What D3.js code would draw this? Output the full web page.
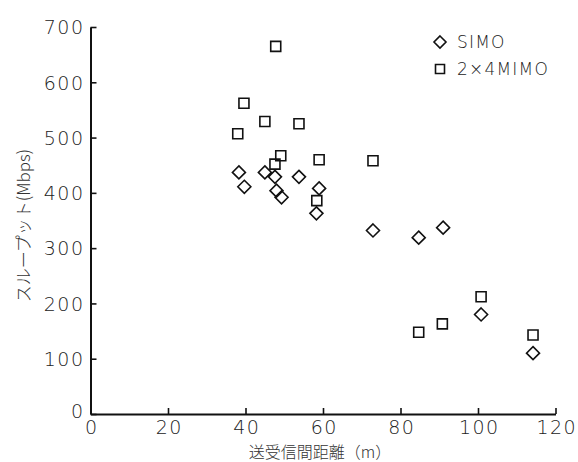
<!DOCTYPE html>
<html>
<head>
<meta charset="utf-8">
<script src="https://cdn.jsdelivr.net/npm/d3@7"></script>
<style>
  body { margin: 0; background: #fff; }
  svg text { font-family: "DejaVu Sans", "Noto Sans CJK JP", sans-serif; font-weight: 300; fill: #222; }
  svg text.jp { font-family: "Noto Sans CJK JP", sans-serif; fill: #333; }
</style>
</head>
<body>
<div id="main"></div>
<script>
// distance (m) and throughput (Mbps)
const simoDist = [38.3, 39.7, 45.0, 47.6, 48.0, 49.3, 53.8, 58.3, 59.0, 72.9, 84.7, 91.0, 100.8, 114.2];
const simoRate = [437, 411, 437, 429, 404, 392, 429, 363, 408, 332, 319, 337, 180, 110];
const mimoDist = [38.0, 39.6, 45.0, 47.6, 47.8, 49.1, 53.8, 58.4, 59.0, 72.9, 84.7, 90.8, 100.8, 114.2];
const mimoRate = [507, 562, 529, 452, 665, 467, 525, 386, 460, 458, 148, 163, 212, 143];
const xTicks = [0, 20, 40, 60, 80, 100, 120];
const yTicks = [0, 100, 200, 300, 400, 500, 600, 700];
const seriesNames = ['SIMO', '2×4MIMO'];

const width = 578;
const height = 462;

const svg = d3.select('#main').append('svg')
  .attr('width', width)
  .attr('height', height);

const x = d3.scaleLinear().domain([0, 120]).range([90.5, 555.5]);
const y = d3.scaleLinear().domain([0, 700]).range([414, 27]);

/* axes: ticks point inward */
const xAxis = svg.append('g')
  .attr('transform', `translate(0,${y(0)})`)
  .call(d3.axisBottom(x).tickValues(xTicks).tickSizeInner(-6).tickSizeOuter(0).tickPadding(7));

const yAxis = svg.append('g')
  .attr('transform', `translate(${x(0)},0)`)
  .call(d3.axisLeft(y).tickValues(yTicks).tickSizeInner(-6).tickSizeOuter(0).tickPadding(6));

[xAxis, yAxis].forEach((g) => {
  g.select('.domain').attr('stroke', '#111').attr('stroke-width', 2);
  g.selectAll('.tick line').attr('stroke', '#111').attr('stroke-width', 1.6);
  g.selectAll('.tick text')
    .attr('font-family', null)
    .attr('font-size', null)
    .style('font-size', '19px')
    .style('letter-spacing', '1.5px')
    .attr('fill', '#222');
});
xAxis.selectAll('.tick text').attr('dy', '0.71em').attr('dx', '0.75px');
yAxis.selectAll('.tick text').attr('dy', '0.36em');
yAxis.selectAll('.tick').filter((d) => d === 0).select('text').attr('dy', '0.2em');

svg.append('text')
  .attr('class', 'jp')
  .attr('x', (x(0) + x(120)) / 2 - 3)
  .attr('y', 458)
  .attr('text-anchor', 'middle')
  .style('font-size', '16px')
  .text('送受信間距離（m）');

svg.append('text')
  .attr('class', 'jp')
  .attr('transform', `translate(30,${(y(0) + y(700)) / 2 + 5}) rotate(-90)`)
  .attr('text-anchor', 'middle')
  .style('font-size', '17px')
  .text('スループット(Mbps)');

const diamond = (s) => `M0,${-s}L${s},0L0,${s}L${-s},0Z`;
const square = (s) => `M${-s},${-s}H${s}V${s}H${-s}Z`;

const simo = simoDist.map((d, i) => ({ d, r: simoRate[i] }));
const mimo = mimoDist.map((d, i) => ({ d, r: mimoRate[i] }));

svg.selectAll('path.mimo')
  .data(mimo)
  .enter()
  .append('path')
  .attr('class', 'mimo')
  .attr('d', square(5))
  .attr('transform', (p) => `translate(${x(p.d)},${y(p.r)})`)
  .attr('fill', 'none')
  .attr('stroke', '#111')
  .attr('stroke-width', 1.6);

svg.selectAll('path.simo')
  .data(simo)
  .enter()
  .append('path')
  .attr('class', 'simo')
  .attr('d', diamond(6.5))
  .attr('transform', (p) => `translate(${x(p.d)},${y(p.r)})`)
  .attr('fill', 'none')
  .attr('stroke', '#111')
  .attr('stroke-width', 1.6);

/* legend */
const legend = svg.append('g').attr('transform', 'translate(440,42)');
seriesNames.forEach((name, i) => {
  const row = legend.append('g').attr('transform', `translate(0,${i * 27})`);
  row.append('path')
    .attr('d', i === 0 ? diamond(6) : square(4.5))
    .attr('fill', 'none')
    .attr('stroke', '#111')
    .attr('stroke-width', 1.6);
  row.append('text')
    .attr('x', 17)
    .attr('dy', '0.36em')
    .style('font-size', '17px')
    .style('letter-spacing', '1.2px')
    .text(name);
});
</script>
</body>
</html>
